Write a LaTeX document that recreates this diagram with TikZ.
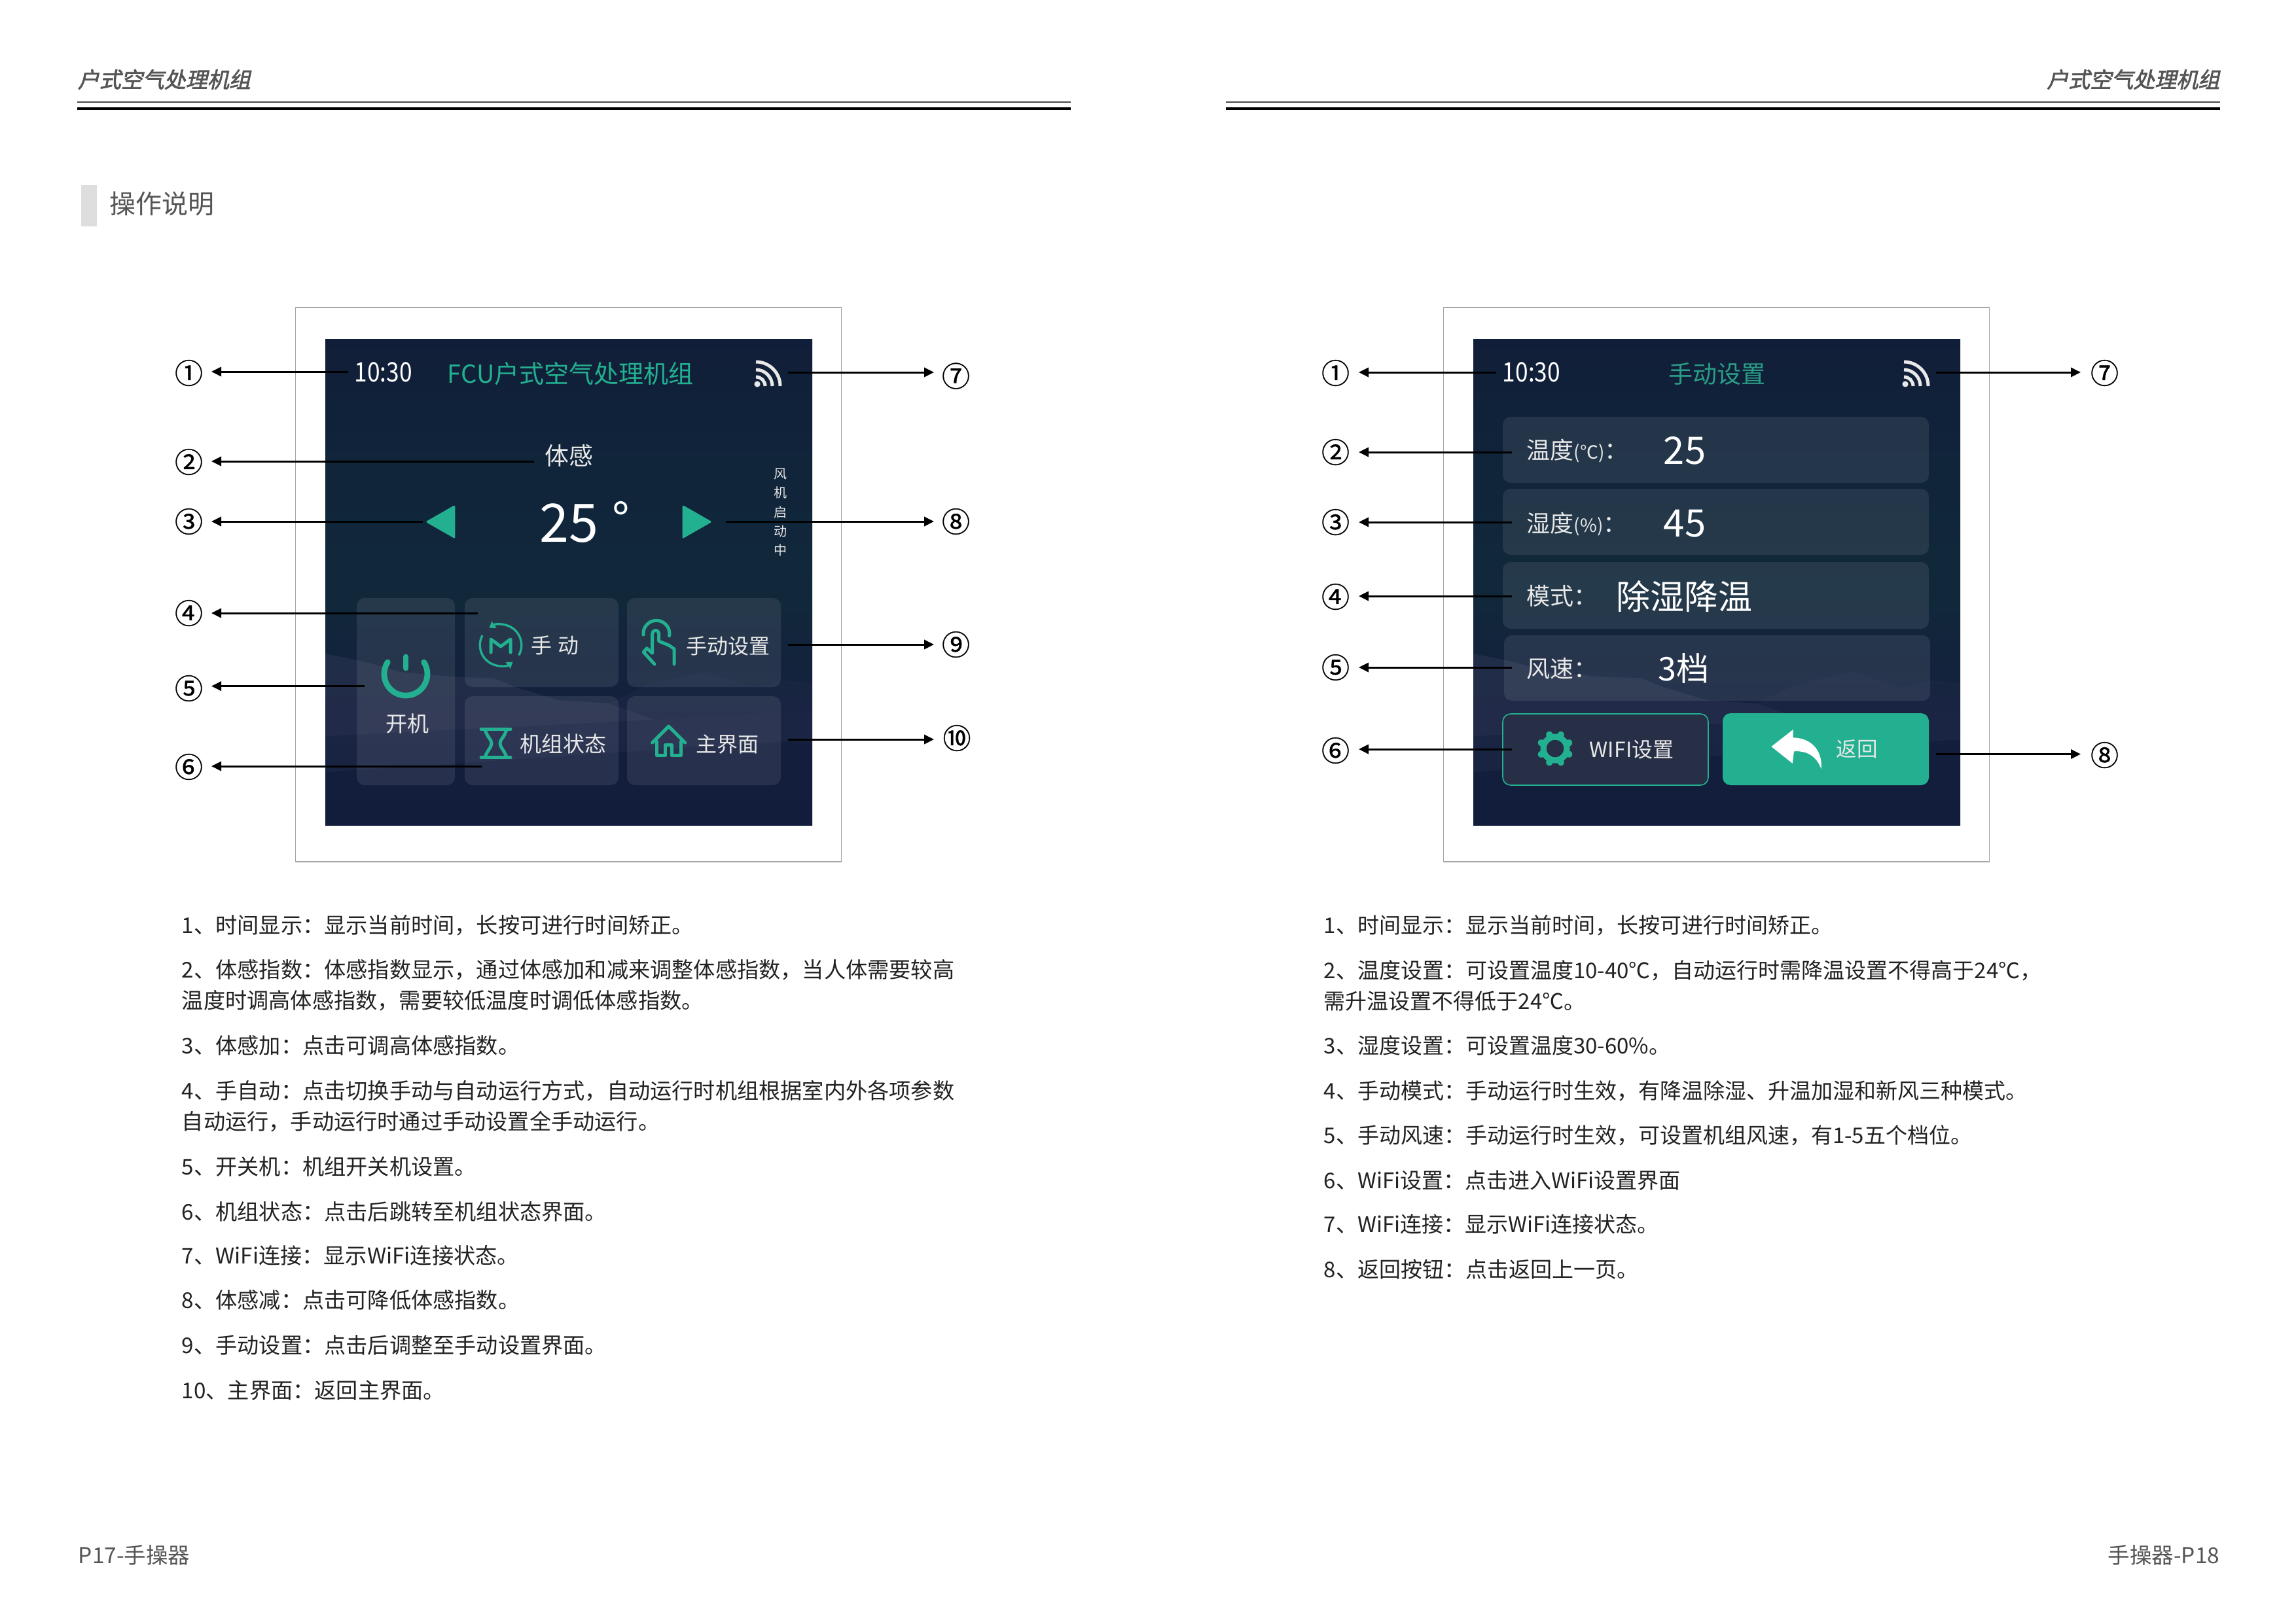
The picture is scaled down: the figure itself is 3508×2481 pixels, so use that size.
\documentclass[tikz,border=0pt]{standalone}
\usepackage{fontspec}
\usetikzlibrary{arrows.meta}
\setmainfont{Noto Sans CJK SC}
\newfontfamily\hdrfont[FakeSlant=0.22,FakeBold=2.2]{Noto Sans CJK SC}
\newfontfamily\circfont[FakeBold=0.8]{Noto Sans CJK SC}
\newcommand\cln{\char"FF1A\relax}
\newcommand\cma{\char"FF0C\relax}
\definecolor{teal1}{HTML}{23B090}
\definecolor{teal2}{HTML}{2A9D87}
\definecolor{ink}{HTML}{222222}
\definecolor{grayt}{HTML}{555555}
\definecolor{lite}{HTML}{E8E8E8}
\definecolor{rwifi}{HTML}{262F45}
\definecolor{sA}{HTML}{121D3C}
\definecolor{sB}{HTML}{141F3E}
\definecolor{sC}{HTML}{11283A}
\definecolor{sD}{HTML}{10243A}
\definecolor{sE}{HTML}{111E39}
\definecolor{mtn}{HTML}{5A5C7C}
\pgfdeclareverticalshading{scrshade}{100bp}{color(0bp)=(sA); color(25bp)=(sA); color(36bp)=(sB); color(49bp)=(sC); color(62.5bp)=(sD); color(75bp)=(sE); color(100bp)=(sE)}
\newcommand\px[1]{\fontsize{\fpeval{#1*0.24}}{\fpeval{#1*0.30}}\selectfont}
% name, x, centre y, size px, colour, text
\newcommand\TL[6]{\node[anchor=base west,inner sep=0pt,text=#5] (#1) at (#2,{#3+0.38*#4}) {\px{#4}#6};}
\newcommand\TC[6]{\node[anchor=base,inner sep=0pt,text=#5] (#1) at (#2,{#3+0.38*#4}) {\px{#4}#6};}
\newcommand\TR[6]{\node[anchor=base east,inner sep=0pt,text=#5] (#1) at (#2,{#3+0.38*#4}) {\px{#4}#6};}
\newcommand\CN[4]{\node[anchor=base,inner sep=0pt,text=black] (#1) at (#2,{#3+0.38*43}) {\circfont\px{43}#4};}
\newcommand\Scr[1]{%
  \begin{scope}[shift={(#1,0)}]
    \draw[framebox] (451.5,470) rectangle (1285.6,1317);
    \shade[shading=scrshade] (497,518) rectangle (1241,1261);
    \fill[mtn,opacity=.19] (497,999) -- (560,1012) -- (612,1027) -- (700,1035) -- (753,1036) -- (787,1050) -- (853,1070) -- (930,1075) -- (1000,1100) -- (497,1125) -- cycle;
    \fill[mtn,opacity=.07] (930,1075) -- (993,1045) -- (1077,1027) -- (1150,1050) -- (1200,1040) -- (1241,1044) -- (1241,1085) -- (1000,1100) -- cycle;
    \fill[mtn,opacity=.09] (497,1125) -- (1000,1100) -- (1241,1085) -- (1241,1130) -- (497,1180) -- cycle;
  \end{scope}}
\newcommand\Wifi[2]{%
  \fill[wifi] (#1+2,#2-3) circle[radius=1.1pt];
  \draw[wifiarc] (#1,#2-37) arc[start angle=90,end angle=0,radius=8.88pt];
  \draw[wifiarc] (#1,#2-25) arc[start angle=90,end angle=0,radius=6pt];
  \draw[wifiarc] (#1,#2-14) arc[start angle=90,end angle=0,radius=3.36pt];}
\tikzset{
  x=0.24pt,y=-0.24pt,
  framebox/.style={draw=black!35,line width=.4pt},
  arr/.style={black,line width=.72pt,-{Triangle[length=3.6pt,width=3.4pt]}},
  btn/.style={fill=white,fill opacity=.085,rounded corners=2.9pt},
  ic/.style={draw=teal1,line width=1.2pt,line cap=round,line join=round},
  wifi/.style={fill=lite},
  wifiarc/.style={draw=lite,line width=1.2pt},
  rulethin/.style={draw=black!72,line width=.48pt},
  rulethick/.style={draw=black,line width=.85pt},
}
\begin{document}
\begin{tikzpicture}
\useasboundingbox (0,0) rectangle (3508,2481);
\fill[white] (0,0) rectangle (3508,2481);
% headers
\draw[rulethin] (118,155.5) -- (1636,155.5);
\draw[rulethick] (118,166) -- (1636,166);
\draw[rulethin] (1873,155.5) -- (3392,155.5);
\draw[rulethick] (1873,166) -- (3392,166);
\node[anchor=base west,inner sep=0pt,text=grayt] (hdrL) at (118,134) {\hdrfont\px{33}户式空气处理机组};
\node[anchor=base east,inner sep=0pt,text=grayt] (hdrR) at (3392,134) {\hdrfont\px{33}户式空气处理机组};
\fill[black!13] (124,283) rectangle (148,346);
\TL{title}{167}{311}{40}{grayt}{操作说明}
% ========== left screen
\Scr{0}
\fill[btn] (545,914) rectangle (695,1200);
\fill[btn] (710,914) rectangle (945,1050);
\fill[btn] (958,914) rectangle (1193,1050);
\fill[btn] (710,1064) rectangle (945,1200);
\fill[btn] (958,1064) rectangle (1193,1200);
\TL{lTime}{541}{568}{41}{white}{\scalebox{.86}[1]{10:30}}
\TL{lTitle}{683}{571}{38}{teal1}{FCU户式空气处理机组}
\Wifi{1155}{590}
\TC{lFeel}{869.5}{696}{37}{lite}{体感}
\TC{lTemp}{869}{798}{81}{white}{25}
\TC{lDeg}{949}{794}{72}{white}{°}
\fill[teal1,draw=teal1,line width=.7pt,line join=round] (653,797.5) -- (694,774) -- (694,821) -- cycle;
\fill[teal1,draw=teal1,line width=.7pt,line join=round] (1085,797.5) -- (1044,774) -- (1044,821) -- cycle;
\node[inner sep=0pt,align=center,text=lite,font=\fontsize{4.8}{7.05}\selectfont] (lFan) at (1192.6,783) {风\\机\\启\\动\\中};
% power
\draw[draw=teal1,line width=2.1pt,line cap=round] (592.3,1012) arc[start angle=147,end angle=393,radius=7.92pt];
\draw[draw=teal1,line width=2.1pt,line cap=round] (620,1004) -- (620,1021);
\TC{lOn}{622}{1106}{33}{lite}{开机}
% M icon
\draw[draw=teal1,line width=.8pt,-{Triangle[length=2.2pt,width=2.8pt]}] ({765+31.7*cos(152)},{986-31.7*sin(152)}) arc[start angle=152,end angle=306,radius=7.6pt];
\draw[draw=teal1,line width=.8pt,-{Triangle[length=2.2pt,width=2.8pt]}] ({765+31.7*cos(-29)},{986-31.7*sin(-29)}) arc[start angle=-29,end angle=124,radius=7.6pt];
\draw[ic] (750,997) -- (750,977) -- (765,988) -- (780,977) -- (780,997);
\TL{lMan}{811}{986}{32}{lite}{手\hspace{2.2pt}动}
% hand icon
\draw[ic] (983,970) arc[start angle=185,end angle=-10,radius=4.8pt];
\draw[ic] (1000,1015) -- (983.3,996.7) -- (988.3,990.7) -- (996.7,998.3) -- (996.7,968.3) arc[start angle=180,end angle=0,radius=1.2pt] -- (1006.7,980) -- (1015,983.3) -- (1021.7,986) -- (1030,991.7) -- (1030,1015);
\TL{lSet}{1048}{987.5}{32}{lite}{手动设置}
% hourglass
\draw[ic] (735,1114.3) -- (780,1114.3);
\draw[ic] (735,1157.7) -- (780,1157.7);
\draw[ic] (741,1115) .. controls (745,1128) and (751,1130) .. (751,1136) .. controls (751,1142) and (745,1146) .. (741,1157);
\draw[ic] (774,1115) .. controls (770,1128) and (764,1130) .. (764,1136) .. controls (764,1142) and (770,1146) .. (774,1157);
\TL{lState}{794}{1137}{33}{lite}{机组状态}
% house
\draw[ic] (996.7,1135) -- (1021.7,1110) -- (1046.7,1135);
\draw[ic] (1003.3,1133.3) -- (1003.3,1154.3) -- (1016.7,1154.3) -- (1016.7,1138.3) -- (1026,1138.3) -- (1026,1154.3) -- (1040.7,1154.3) -- (1040.7,1133.3);
\TL{lHome}{1063}{1137}{32}{lite}{主界面}
% left callouts
\coordinate (lE1) at (532,568);   \coordinate (lT1) at (323,568);
\coordinate (lE2) at (816,705);   \coordinate (lT2) at (323,705);
\coordinate (lE3) at (645.5,797); \coordinate (lT3) at (323,797);
\coordinate (lE4) at (730,937);   \coordinate (lT4) at (323,937);
\coordinate (lE5) at (556.5,1048.6); \coordinate (lT5) at (323,1048.6);
\coordinate (lE6) at (735.6,1171); \coordinate (lT6) at (323,1171);
\coordinate (lE7) at (1204,569);  \coordinate (lT7) at (1427,569);
\coordinate (lE8) at (1109,797);  \coordinate (lT8) at (1427,797);
\coordinate (lE9) at (1204,985);  \coordinate (lT9) at (1427,985);
\coordinate (lE10) at (1204,1130); \coordinate (lT10) at (1427,1130);
\foreach \i in {1,...,10} \draw[arr] (lE\i) -- (lT\i);
\CN{lc1}{288.5}{570}{①}
\CN{lc2}{288.5}{706}{②}
\CN{lc3}{288.5}{797}{③}
\CN{lc4}{288.5}{937}{④}
\CN{lc5}{288.5}{1052}{⑤}
\CN{lc6}{288.5}{1172}{⑥}
\CN{lc7}{1460.5}{574.6}{⑦}
\CN{lc8}{1460.5}{797}{⑧}
\CN{lc9}{1460.5}{985}{⑨}
\CN{lc10}{1462}{1128}{⑩}
% left text
\TL{la1}{277}{1414}{33.2}{ink}{1、时间显示\cln{}显示当前时间\cma{}长按可进行时间矫正。}
\TL{la2}{277}{1482}{33.2}{ink}{2、体感指数\cln{}体感指数显示\cma{}通过体感加和减来调整体感指数\cma{}当人体需要较高}
\TL{la3}{277}{1529}{33.2}{ink}{温度时调高体感指数\cma{}需要较低温度时调低体感指数。}
\TL{la4}{277}{1598}{33.2}{ink}{3、体感加\cln{}点击可调高体感指数。}
\TL{la5}{277}{1667}{33.2}{ink}{4、手自动\cln{}点击切换手动与自动运行方式\cma{}自动运行时机组根据室内外各项参数}
\TL{la6}{277}{1714}{33.2}{ink}{自动运行\cma{}手动运行时通过手动设置全手动运行。}
\TL{la7}{277}{1783}{33.2}{ink}{5、开关机\cln{}机组开关机设置。}
\TL{la8}{277}{1851.5}{33.2}{ink}{6、机组状态\cln{}点击后跳转至机组状态界面。}
\TL{la9}{277}{1918.5}{33.2}{ink}{7、WiFi连接\cln{}显示WiFi连接状态。}
\TL{la10}{277}{1987}{33.2}{ink}{8、体感减\cln{}点击可降低体感指数。}
\TL{la11}{277}{2056}{33.2}{ink}{9、手动设置\cln{}点击后调整至手动设置界面。}
\TL{la12}{277}{2124.5}{33.2}{ink}{10、主界面\cln{}返回主界面。}
\TL{footL}{119}{2377}{33.5}{grayt}{P17-手操器}
% ========== right screen
\Scr{1754}
\fill[btn] (2296,637) rectangle (2947,738);
\fill[btn] (2296,747) rectangle (2947,848);
\fill[btn] (2296,859) rectangle (2947,961);
\fill[btn] (2298,971) rectangle (2949,1071);
\draw[fill=rwifi,draw=teal1,line width=.4pt,rounded corners=2.9pt] (2296,1091) rectangle (2610,1200);
\fill[teal1,rounded corners=2.9pt] (2632,1090) rectangle (2947,1200);
\TL{rTime}{2295}{568}{41}{white}{\scalebox{.86}[1]{10:30}}
\TC{rTitle}{2623}{571}{37}{teal2}{手动设置}
\Wifi{2909}{590}
\TL{rL1}{2332}{688}{36}{lite}{温度{\px{28}(℃)}\cln{}}
\TL{rV1}{2541}{687}{58}{white}{25}
\TL{rL2}{2332}{799.5}{36}{lite}{湿度{\px{28}(\%)}\cln{}}
\TL{rV2}{2541}{798}{58}{white}{45}
\TL{rL3}{2332}{910.6}{36}{lite}{模式\cln{}}
\TL{rV3}{2469}{912}{52}{white}{除湿降温}
\TL{rL4}{2332}{1022}{36}{lite}{风速\cln{}}
\TL{rV4}{2533}{1021}{50}{white}{3档}
% gear
\draw[draw=teal1,line width=2.2pt] (2376,1144) circle[radius=4.3pt];
\foreach \a in {22.5,67.5,...,337.5}
  \draw[draw=teal1,line width=2.5pt,line cap=round] (2376,1144) ++(\a:19) -- ++(\a:4);
\TL{rWifi}{2428}{1145}{32}{lite}{WIFI设置}
% return arrow
\fill[white] (2706.4,1141) -- (2739.6,1115) -- (2739.6,1127.3) .. controls (2770,1128) and (2785,1150) .. (2782.5,1175) .. controls (2775,1155) and (2760,1147) .. (2741,1148.3) -- (2738.6,1166.7) -- cycle;
\TL{rBack}{2805}{1145}{31.5}{lite}{返回}
% right callouts
\coordinate (rE1) at (2286,569);  \coordinate (rT1) at (2076,569);
\coordinate (rE2) at (2310,691);  \coordinate (rT2) at (2076,691);
\coordinate (rE3) at (2310,798);  \coordinate (rT3) at (2076,798);
\coordinate (rE4) at (2310,911);  \coordinate (rT4) at (2076,911);
\coordinate (rE5) at (2310,1020); \coordinate (rT5) at (2076,1020);
\coordinate (rE6) at (2310,1145); \coordinate (rT6) at (2076,1145);
\coordinate (rE7) at (2958,569);  \coordinate (rT7) at (3179,569);
\coordinate (rE8) at (2958,1152.5); \coordinate (rT8) at (3179,1152.5);
\foreach \i in {1,...,8} \draw[arr] (rE\i) -- (rT\i);
\CN{rc1}{2040.5}{570}{①}
\CN{rc2}{2040.5}{691}{②}
\CN{rc3}{2040.5}{798}{③}
\CN{rc4}{2040.5}{912}{④}
\CN{rc5}{2040.5}{1020}{⑤}
\CN{rc6}{2040.5}{1147}{⑥}
\CN{rc7}{3215.5}{570}{⑦}
\CN{rc8}{3215.5}{1154}{⑧}
% right text
\TL{ra1}{2022}{1414}{33}{ink}{1、时间显示\cln{}显示当前时间\cma{}长按可进行时间矫正。}
\TL{ra2}{2022}{1483}{33}{ink}{2、温度设置\cln{}可设置温度10-40℃\cma{}自动运行时需降温设置不得高于24℃\cma{}}
\TL{ra3}{2022}{1530}{33}{ink}{需升温设置不得低于24℃。}
\TL{ra4}{2022}{1598}{33}{ink}{3、湿度设置\cln{}可设置温度30-60\%。}
\TL{ra5}{2022}{1667}{33}{ink}{4、手动模式\cln{}手动运行时生效\cma{}有降温除湿、升温加湿和新风三种模式。}
\TL{ra6}{2022}{1735}{33}{ink}{5、手动风速\cln{}手动运行时生效\cma{}可设置机组风速\cma{}有1-5五个档位。}
\TL{ra7}{2022}{1804}{33}{ink}{6、WiFi设置\cln{}点击进入WiFi设置界面}
\TL{ra8}{2022}{1871}{33}{ink}{7、WiFi连接\cln{}显示WiFi连接状态。}
\TL{ra9}{2022}{1940}{33}{ink}{8、返回按钮\cln{}点击返回上一页。}
\TR{footR}{3392}{2377}{33.5}{grayt}{手操器-P18}
\end{tikzpicture}
\end{document}
